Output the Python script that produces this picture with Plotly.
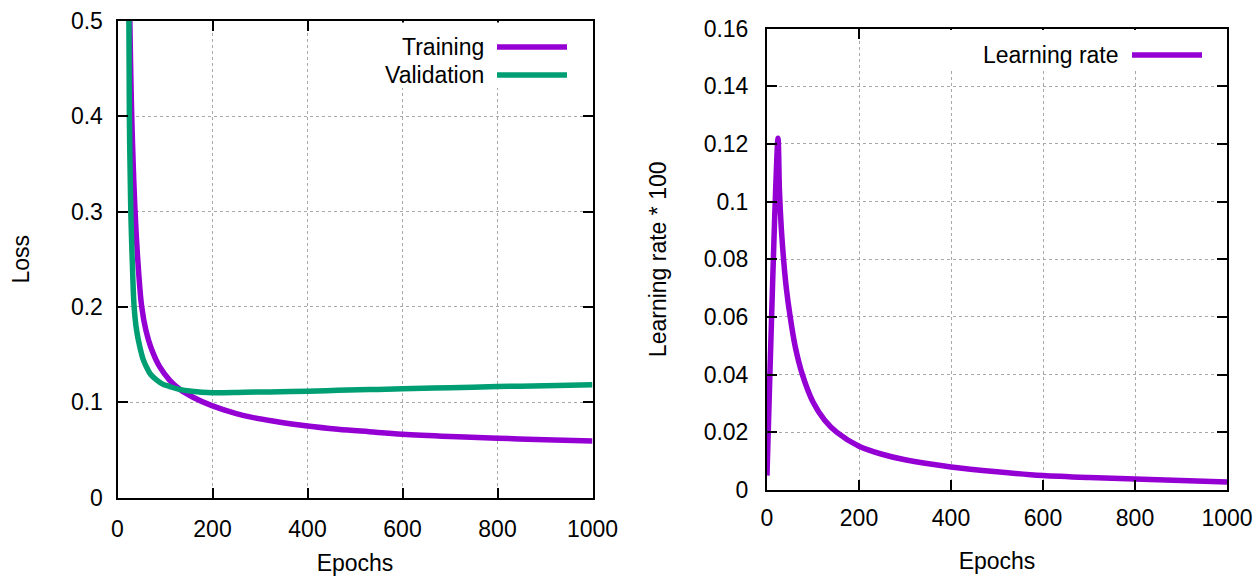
import plotly.graph_objects as go

# ---- data -------------------------------------------------------------
epochs_train = [26, 30, 37, 44, 51, 60, 70, 89, 110, 131, 160, 200, 250, 286,
                330, 400, 464, 530, 600, 700, 800, 900, 1000]
loss_train = [0.50, 0.40, 0.30, 0.24, 0.20, 0.175, 0.158, 0.137, 0.123, 0.1136,
              0.105, 0.0961, 0.088, 0.0838, 0.080, 0.0750, 0.0716, 0.069,
              0.0664, 0.064, 0.0622, 0.0607, 0.0593]

epochs_val = [24, 25, 28, 31, 35, 40, 47, 54, 61, 70, 82, 95, 110, 130, 156,
              200, 268, 321, 400, 464, 530, 600, 700, 800, 900, 1000]
loss_val = [0.50, 0.40, 0.30, 0.25, 0.20, 0.176, 0.158, 0.145, 0.137, 0.129,
            0.1234, 0.119, 0.1164, 0.1135, 0.1115, 0.110, 0.1105, 0.1108,
            0.1115, 0.1125, 0.1132, 0.114, 0.1152, 0.1164, 0.1173, 0.1182]

epochs_lr = [0, 24, 27, 31, 36, 42, 50, 61, 77, 100, 125, 152, 200, 250, 300,
             400, 500, 600, 700, 800, 900, 1000]
lr_x100 = [0.005, 0.122, 0.104, 0.091, 0.080, 0.070, 0.0605, 0.050, 0.040,
           0.0305, 0.0243, 0.0200, 0.0152, 0.0124, 0.0105, 0.0080, 0.0063,
           0.0050, 0.0043, 0.0038, 0.0033, 0.0028]

x_ticks = [0, 200, 400, 600, 800, 1000]
x_ticklabels = ["0", "200", "400", "600", "800", "1000"]
loss_ticks = [0, 0.1, 0.2, 0.3, 0.4, 0.5]
loss_ticklabels = ["0", "0.1", "0.2", "0.3", "0.4", "0.5"]
lr_ticks = [0, 0.02, 0.04, 0.06, 0.08, 0.1, 0.12, 0.14, 0.16]
lr_ticklabels = ["0", "0.02", "0.04", "0.06", "0.08", "0.1", "0.12", "0.14", "0.16"]

# ---- style ------------------------------------------------------------
W, H = 1260, 576
PURPLE = "#9400D3"
GREEN = "#009E73"
FONT = "Liberation Sans, Arial, sans-serif"
FS = 23
LW = 5.5

# plot frames in pixels (left, right, top, bottom)
LEFT_BOX = (117.5, 592.5, 21.0, 497.5)
RIGHT_BOX = (767.0, 1227.0, 28.6, 490.0)


def xdom(box):
    return [box[0] / W, box[1] / W]


def ydom(box):
    return [1 - box[3] / H, 1 - box[2] / H]


def px_x(x):
    return x / W


def px_y(y):
    return 1 - y / H


fig = go.Figure()

fig.add_trace(go.Scatter(x=epochs_train, y=loss_train, mode="lines",
                         line=dict(color=PURPLE, width=LW, shape="spline", smoothing=1.0),
                         name="Training", xaxis="x", yaxis="y", showlegend=False))
fig.add_trace(go.Scatter(x=epochs_val, y=loss_val, mode="lines",
                         line=dict(color=GREEN, width=LW, shape="spline", smoothing=1.0),
                         name="Validation", xaxis="x", yaxis="y", showlegend=False))
fig.add_trace(go.Scatter(x=epochs_lr, y=lr_x100, mode="lines",
                         line=dict(color=PURPLE, width=LW, shape="spline", smoothing=0.8),
                         name="Learning rate", xaxis="x2", yaxis="y2", showlegend=False))

axis_common = dict(
    showline=True, linecolor="black", linewidth=2, mirror="allticks",
    ticks="inside", ticklen=10, tickwidth=2, tickcolor="black",
    showgrid=True, gridcolor="#a8a8a8", gridwidth=1, griddash="dot",
    zeroline=False, automargin=False,
    tickfont=dict(family=FONT, size=FS, color="black"),
)

fig.update_layout(
    width=W, height=H,
    margin=dict(l=0, r=0, t=0, b=0),
    paper_bgcolor="white", plot_bgcolor="white",
    font=dict(family=FONT, size=FS, color="black"),
    xaxis=dict(axis_common, domain=xdom(LEFT_BOX), range=[0, 1000],
               tickvals=x_ticks, ticktext=x_ticklabels, ticklabelstandoff=10,
               anchor="y",
               title=dict(text="Epochs", standoff=21,
                          font=dict(family=FONT, size=FS))),
    yaxis=dict(axis_common, domain=ydom(LEFT_BOX), range=[0, 0.5],
               tickvals=loss_ticks, ticktext=loss_ticklabels, ticklabelstandoff=8,
               anchor="x",
               title=dict(text="Loss", standoff=35,
                          font=dict(family=FONT, size=FS))),
    xaxis2=dict(axis_common, domain=xdom(RIGHT_BOX), range=[0, 1000],
                tickvals=x_ticks, ticktext=x_ticklabels, ticklabelstandoff=6,
                anchor="y2",
                title=dict(text="Epochs", standoff=23,
                           font=dict(family=FONT, size=FS))),
    yaxis2=dict(axis_common, domain=ydom(RIGHT_BOX), range=[0, 0.16],
                tickvals=lr_ticks, ticktext=lr_ticklabels, ticklabelstandoff=12,
                anchor="x2",
                title=dict(text="Learning rate * 100", standoff=31,
                           font=dict(family=FONT, size=FS))),
)

# ---- keys (text on the left, line sample on the right) ---------------
shapes = []
annotations = []


def add_key(bg, entries):
    x0, x1, y0, y1 = bg
    # white backing hides the grid behind the key
    shapes.append(dict(type="rect", xref="paper", yref="paper", layer="above",
                       x0=px_x(x0), x1=px_x(x1), y0=px_y(y1), y1=px_y(y0),
                       fillcolor="white", line=dict(width=0)))
    for label, color, text_right, line_x0, line_x1, yc in entries:
        annotations.append(dict(xref="paper", yref="paper", x=px_x(text_right),
                                y=px_y(yc), text=label, showarrow=False,
                                xanchor="right", yanchor="middle",
                                font=dict(family=FONT, size=FS, color="black")))
        shapes.append(dict(type="line", xref="paper", yref="paper", layer="above",
                           x0=px_x(line_x0), x1=px_x(line_x1),
                           y0=px_y(yc), y1=px_y(yc),
                           line=dict(color=color, width=LW)))


add_key((362, 591, 22.5, 88),
        [("Training", PURPLE, 486, 497, 567, 47),
         ("Validation", GREEN, 486, 497, 567, 75)])
add_key((945, 1226, 30, 70),
        [("Learning rate", PURPLE, 1121, 1132, 1202, 55)])

fig.update_layout(shapes=shapes, annotations=annotations)

fig.write_html("out.html")
